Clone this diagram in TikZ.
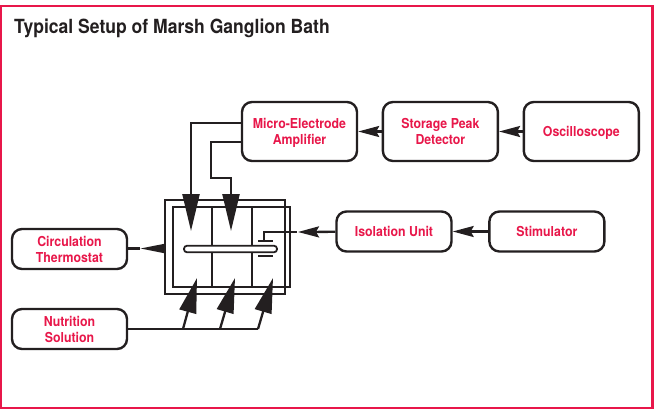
\documentclass[tikz,border=0pt]{standalone}
\usepackage{xcolor}
\usepackage{fontspec}
\setmainfont[FakeStretch=0.9]{TeX Gyre Heros}
\usetikzlibrary{arrows.meta,positioning}
\definecolor{BathRed}{HTML}{E8174A}
\definecolor{BathInk}{HTML}{231F20}

\begin{document}
\begin{tikzpicture}[
  x=1pt,y=-1pt,
  node distance=23.5pt,
  box/.style={draw=BathInk,line width=2.4pt,rounded corners=10pt,fill=white,inner sep=0pt,align=center,
    text=BathRed,font=\fontsize{13.7}{16}\selectfont\bfseries,minimum width=115pt,minimum height=59pt},
  topbox/.style={box,text depth=0pt},
  lowbox/.style={box,minimum height=40pt},
  frame/.style={draw=BathInk,line width=2.1pt,inner sep=0pt},
  wire/.style={draw=BathInk,line width=2.3pt},
  bigarrow/.style={wire,-{Triangle[length=37pt,width=17pt]},BathInk},
  midarrow/.style={wire,-{Triangle[length=35pt,width=17pt]},BathInk},
  smallarrow/.style={wire,-{Stealth[length=21pt,width=11pt,inset=3pt]},BathInk}
]
  \useasboundingbox (0,0) rectangle (654,408);
  \draw[BathRed,line width=2.2pt] (1,6) rectangle (652.5,408);
  \node[anchor=west,text=BathInk,font=\fontsize{19.5}{22}\selectfont\bfseries,inner sep=0pt] (title) at (14,28) {Typical Setup of Marsh Ganglion Bath};

  \node[topbox] (amp) at (299.5,131.5) {Micro-Electrode\\Amplifier};
  \node[topbox, right=of amp] (peak) {Storage Peak\\Detector};
  \node[topbox, right=of peak] (scope) {Oscilloscope};
  \node[lowbox] (iso) at (394,231.5) {Isolation Unit};
  \node[lowbox, right=35.5pt of iso] (stim) {Stimulator};
  \node[lowbox] (circ) at (69.5,249) {Circulation\\Thermostat};
  \node[lowbox] (nutr) at (69.5,329) {Nutrition\\Solution};

  % bath
  \node[frame,minimum width=120pt,minimum height=94pt] (bathout) at (225,247) {};
  \node[frame,minimum width=117pt,minimum height=80pt] (bathin) at (231.5,247) {};
  \foreach \x in {212,252}
    \draw[wire,line width=2.1pt] (\x,207) -- (\x,287);
  \node[frame,line width=1.8pt,fill=white,rounded corners=3pt,minimum width=93pt,minimum height=6.5pt] (rod) at (230.5,249) {};
  \coordinate (plusl) at (258,241);
  \coordinate (plusr) at (273,241);
  \coordinate (minl) at (258,256);
  \coordinate (minr) at (273,256);
  \draw[wire] (plusl) -- (plusr);
  \draw[wire,line width=2.4pt] (minl) -- (minr);

  \draw[smallarrow] (peak) -- (amp);
  \draw[smallarrow] (scope) -- (peak);
  \draw[smallarrow] (stim) -- (iso);

  \coordinate (rodtop) at (264,241);
  \coordinate (rodbend) at (264,232);
  \coordinate (rodend) at (297,232);
  \coordinate (isotip) at (298,232);
  \draw[wire] (rodtop) -- (rodbend) -- (rodend);
  \draw[smallarrow] (iso) -- (isotip);

  \coordinate (tipA) at (191,231);
  \coordinate (tipB) at (231,231);
  \draw[bigarrow] (amp.west |- 0,123) -| (tipA);
  \draw[bigarrow] (amp.west |- 0,142) -- (211,142) -- (211,178) -- (231,178) -- (tipB);

  \coordinate (circtip) at (140,248.5);
  \draw[wire] (circ.east |- circtip) -- (circtip);
  \draw[wire,-{Triangle[length=25pt,width=9pt]},BathInk] (bathout.west |- circtip) -- (circtip);

  \coordinate (feedA) at (183,329);
  \coordinate (feedB) at (220,329);
  \coordinate (feedC) at (258,329);
  \coordinate (tipC) at (197,278);
  \coordinate (tipD) at (235,278);
  \coordinate (tipE) at (273,278);
  \draw[wire] (nutr) -- (feedC);
  \draw[midarrow] (feedA) -- (tipC);
  \draw[midarrow] (feedB) -- (tipD);
  \draw[midarrow] (feedC) -- (tipE);
\end{tikzpicture}
\end{document}
